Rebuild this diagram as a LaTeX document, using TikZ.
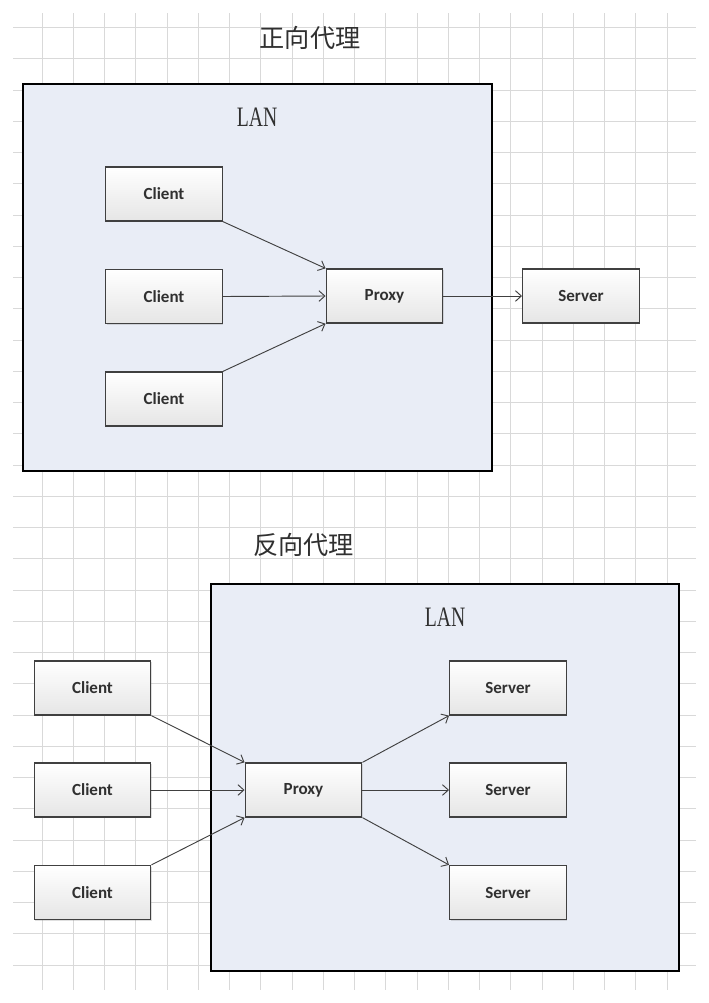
\documentclass[tikz,border=0pt]{standalone}
\usepackage{fontspec}
\usepackage{graphicx}
\setmainfont{Liberation Serif}
\newfontfamily\boxfont{Carlito}
\newfontfamily\cjk{Noto Sans CJK SC}
\usetikzlibrary{arrows.meta, positioning, shadows}

\definecolor{lanfill}{RGB}{233,237,246}
\definecolor{gridgray}{RGB}{217,217,217}
\definecolor{edgegray}{RGB}{64,64,64}
\definecolor{textgray}{RGB}{48,48,48}

\tikzset{
  gridline/.style={draw=gridgray, line width=0.8pt},
  lanbox/.style={draw=black, line width=1.4pt, fill=lanfill},
  hostbox/.style={draw=edgegray, line width=1.1pt, top color=white, bottom color=black!10,
    minimum width=3.5cm, minimum height=1.62cm, inner sep=0pt,
    font=\boxfont\bfseries\fontsize{14.5pt}{16pt}\selectfont, text=textgray,
    drop shadow={shadow xshift=0.9pt, shadow yshift=-0.9pt, opacity=0.25}},
  lanlabel/.style={font=\fontsize{24pt}{26pt}\selectfont, text=textgray},
  titlelabel/.style={font=\cjk\fontsize{21.5pt}{24pt}\selectfont, text=textgray},
  link/.style={draw=edgegray, line width=0.8pt, -{Straight Barb[length=5pt,width=9pt]}}
}

\begin{document}
\begin{tikzpicture}[x=0.03cm,y=-0.03cm]
  \useasboundingbox[fill=white] (0,0) rectangle (709,1003);

  % Grid
  \foreach \gx in {0,...,20}
    \draw[gridline] ({42+31.25*\gx},13) -- ({42+31.25*\gx},990);
  \foreach \gy in {0,...,30}
    \draw[gridline] (13,{27.7+31.25*\gy}) -- (696,{27.7+31.25*\gy});

  % Forward proxy
  \node[titlelabel] (fwdtitle) at (310,38) {正向代理};
  \draw[lanbox] (23,84) rectangle (492,471);
  \node[lanlabel] (fwdlan) at (257,117) {\scalebox{0.7}[1]{LAN}};

  \node[hostbox] (fc1) at (164,194) {Client};
  \node[hostbox] (fc2) at (164,296.5) {Client};
  \node[hostbox] (fc3) at (164,399) {Client};
  \node[hostbox] (fproxy) at (384.5,296) {Proxy};
  \node[hostbox] (fserver) at (581,296) {Server};

  \draw[link] (fc1.south east) -- (fproxy.north west);
  \draw[link] (fc2.east) -- (fproxy.west);
  \draw[link] (fc3.north east) -- (fproxy.south west);
  \draw[link] (fproxy.east) -- (fserver.west);

  % Reverse proxy
  \node[titlelabel] (revtitle) at (303.5,545) {反向代理};
  \draw[lanbox] (211,584) rectangle (679,971);
  \node[lanlabel] (revlan) at (445,617) {\scalebox{0.7}[1]{LAN}};

  \node[hostbox] (rc1) at (92.5,688) {Client};
  \node[hostbox] (rc2) at (92.5,790) {Client};
  \node[hostbox] (rc3) at (92.5,892.5) {Client};
  \node[hostbox] (rproxy) at (303.5,790) {Proxy};
  \node[hostbox] (rs1) at (508,688) {Server};
  \node[hostbox] (rs2) at (508,790) {Server};
  \node[hostbox] (rs3) at (508,892.5) {Server};

  \draw[link] (rc1.south east) -- (rproxy.north west);
  \draw[link] (rc2.east) -- (rproxy.west);
  \draw[link] (rc3.north east) -- (rproxy.south west);
  \draw[link] (rproxy.north east) -- (rs1.south west);
  \draw[link] (rproxy.east) -- (rs2.west);
  \draw[link] (rproxy.south east) -- (rs3.north west);
\end{tikzpicture}
\end{document}
